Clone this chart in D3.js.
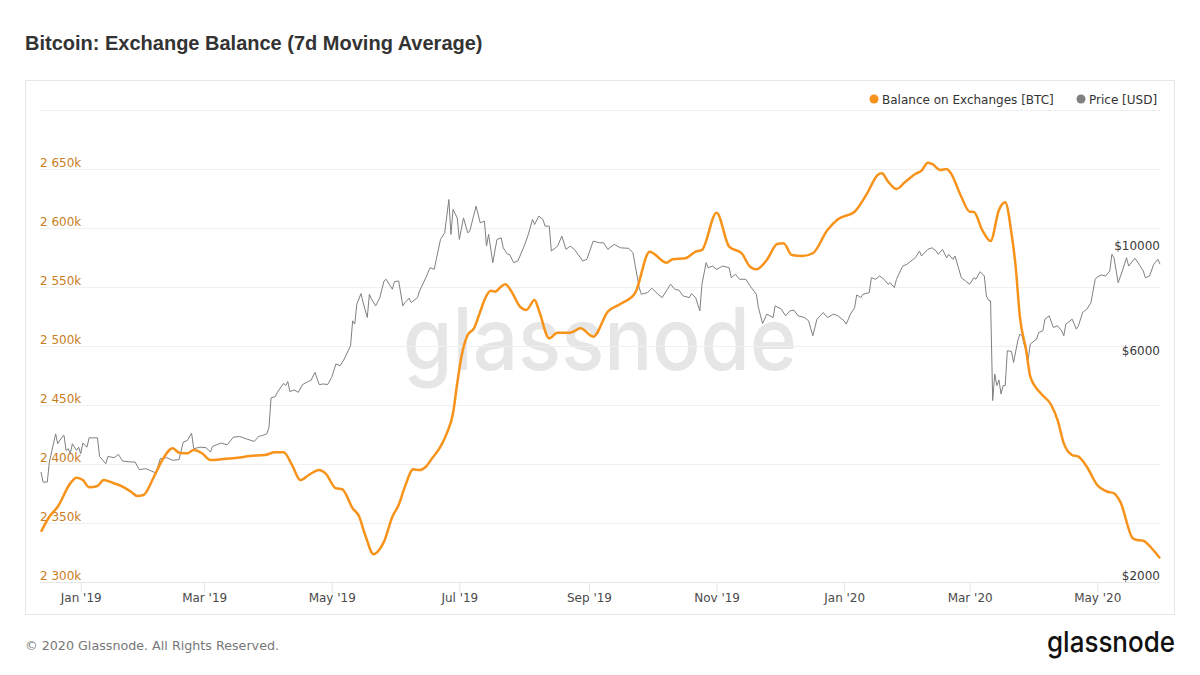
<!DOCTYPE html>
<html>
<head>
<meta charset="utf-8">
<script src="https://cdn.jsdelivr.net/npm/d3@7"></script>
<style>
  html, body { margin: 0; padding: 0; background: #fff; }
  svg { display: block; }
</style>
</head>
<body>
<svg id="chart" width="1200" height="675"></svg>
<script>
// ---- DATA (day = days after 2019-01-01) ----
const titleText = "Bitcoin: Exchange Balance (7d Moving Average)";
const seriesNames = ["Balance on Exchanges [BTC]", "Price [USD]"];
const balanceTicks = [2300000, 2350000, 2400000, 2450000, 2500000, 2550000, 2600000, 2650000];
const balanceGrid = [2700000];
const priceTicks = [2000, 6000, 10000];
const dayRange = [-19, 516];

// Balance on exchanges, thousands of BTC: [day, value]
const balanceSeries = [
  [-19,2342.6],[-15,2355.3],[-11,2363.8],[-5,2383.6],[-2,2388.4],[1,2386.4],[4,2380.3],[8,2381.4],
  [11,2386.4],[15,2384.2],[20,2380.8],[24,2376.5],[27,2372.9],[30,2373.7],[35,2389.2],[39,2403.4],
  [44,2413.3],[47,2409.6],[51,2409.1],[54,2411.9],[58,2409.1],[62,2403.4],[68,2404.2],[75,2405.3],
  [81,2406.8],[88,2407.6],[93,2409.9],[97,2409.9],[101,2399.2],[105,2386.4],[109,2390.7],[114,2394.9],
  [117,2392.1],[122,2379.4],[125,2378.6],[130,2362.5],[133,2355.9],[136,2339.8],[140,2323.5],[142,2325.7],
  [145,2334.2],[149,2355.3],[152,2365.3],[155,2380.8],[159,2395.5],[162,2394.9],[165,2397.7],[168,2404.8],
  [172,2414.7],[175,2426.0],[178,2443.0],[180,2468.4],[182,2490.9],[185,2509.3],[188,2515.0],[191,2529.1],
  [193,2539.0],[196,2546.9],[198,2546.0],[201,2550.3],[203,2552.3],[206,2546.0],[210,2533.3],[213,2530.5],
  [217,2539.0],[219,2530.5],[224,2506.5],[228,2511.3],[234,2511.3],[239,2515.0],[245,2507.9],[252,2529.1],
  [258,2535.6],[265,2544.7],[272,2579.9],[280,2570.6],[283,2573.5],[289,2574.3],[294,2579.9],[297,2581.4],
  [304,2613.0],[310,2584.2],[316,2578.6],[320,2567.2],[323,2565.0],[328,2572.9],[333,2586.5],[336,2587.0],
  [340,2577.1],[345,2576.3],[350,2578.6],[357,2598.3],[362,2607.4],[370,2613.8],[376,2629.4],[381,2644.9],
  [383,2646.4],[386,2639.3],[390,2633.1],[394,2638.7],[399,2645.8],[402,2648.6],[405,2655.4],[407,2654.3],
  [411,2649.2],[414,2650.0],[416,2646.4],[421,2626.5],[425,2613.8],[427,2613.6],[431,2598.3],[435,2589.0],
  [439,2615.3],[442,2621.8],[445,2595.5],[447,2567.2],[449,2524.8],[452,2496.6],[454,2474.0],[459,2459.9],
  [464,2450.0],[467,2437.3],[470,2417.5],[474,2407.6],[477,2406.2],[481,2397.7],[486,2382.2],[491,2376.5],
  [494,2375.2],[497,2368.1],[503,2337.0],[505,2335.6],[508,2335.0],[512,2328.6],[516,2320.1]
];

// BTC price in USD: [day, value]
const priceSeries = [
  [-19,3420],[-18,3256],[-16,3256],[-15,3591],[-12,4121],[-11,3926],[-9,4054],[-8,4089],[-7,3800],[-6,3832],
  [-5,3740],[-4,3926],[-2,3800],[-1,3861],[0,3740],[1,3939],[3,3861],[4,4041],[8,4041],[9,3690],[12,3562],
  [13,3690],[16,3668],[18,3727],[20,3608],[24,3591],[26,3591],[28,3460],[31,3477],[33,3448],[36,3403],
  [38,3649],[41,3668],[44,3621],[47,3634],[49,3956],[51,3990],[53,4134],[54,3832],[57,3861],[60,3850],
  [62,3769],[63,3875],[67,3939],[70,3906],[73,4054],[76,4068],[79,4023],[83,3970],[85,4068],[87,4089],
  [89,4121],[90,4256],[91,4910],[93,4942],[94,5045],[97,5272],[98,5214],[99,5316],[100,5062],[102,5106],
  [104,5045],[106,5238],[109,5324],[110,5342],[112,5562],[114,5238],[116,5256],[118,5238],[120,5428],
  [122,5794],[124,5746],[126,5936],[129,6334],[130,7150],[131,7038],[132,7756],[134,8166],[135,7816],
  [137,7268],[138,8142],[139,7948],[141,7692],[143,8008],[145,8686],[146,8758],[149,8344],[150,8656],
  [152,8686],[154,7692],[155,7816],[157,7986],[158,7816],[161,8008],[162,8276],[165,8826],[166,9042],
  [167,9264],[169,9194],[170,9652],[172,10638],[174,10986],[176,12922],[177,10900],[178,12310],[180,11816],
  [181,10638],[183,11816],[185,10986],[186,11078],[189,12510],[191,11532],[193,11628],[194,10296],[195,10900],
  [197,9496],[199,10638],[201,10722],[202,10212],[204,9890],[205,9890],[207,9496],[209,9574],[212,10296],
  [214,10900],[216,11726],[217,11442],[219,11914],[221,11726],[222,11350],[224,11350],[225,10050],[228,10296],
  [230,10810],[232,10134],[234,10296],[236,10134],[240,9574],[242,9652],[245,10552],[248,10466],[250,10466],
  [252,10134],[255,10384],[258,10212],[262,10184],[264,9968],[265,9422],[267,8410],[268,8142],[271,8206],
  [273,8386],[276,8142],[278,8008],[280,8276],[282,8546],[284,8344],[286,8304],[288,8074],[291,8008],
  [292,8166],[294,8008],[296,7506],[297,8546],[299,9496],[300,9264],[302,9342],[304,9194],[307,9342],
  [310,9264],[311,8826],[313,8974],[315,8758],[318,8758],[320,8476],[323,8142],[324,7628],[326,7056],
  [328,7388],[331,7268],[332,7692],[335,7568],[337,7328],[339,7506],[341,7532],[343,7328],[346,7268],
  [348,7150],[350,6648],[352,7210],[355,7446],[357,7268],[360,7388],[362,7328],[365,7150],[366,7038],
  [368,7388],[370,7628],[371,8114],[373,8008],[374,8142],[377,8206],[378,8826],[380,8758],[382,8900],
  [384,8758],[386,8546],[387,8612],[389,8410],[390,8758],[393,9342],[395,9422],[398,9652],[399,9728],
  [401,10050],[402,9810],[405,10134],[407,10212],[409,10050],[410,9890],[412,10134],[414,9728],[415,9890],
  [417,9652],[418,9810],[421,8826],[423,8686],[425,8546],[427,8826],[428,8758],[430,9086],[432,8900],
  [433,8074],[434,7908],[435,7882],[436,4847],[437,5518],[438,5214],[439,5360],[440,5006],[441,5214],
  [442,5214],[443,6180],[445,6160],[446,5838],[448,6488],[449,6702],[450,6648],[451,6386],[453,5936],
  [454,6386],[457,6542],[458,6756],[460,6812],[461,7210],[463,7328],[465,6922],[467,6980],[469,6812],
  [470,6648],[471,7038],[474,7210],[476,6868],[477,6980],[479,7446],[481,7568],[483,7816],[485,8758],
  [486,8856],[488,8942],[490,8900],[492,9120],[493,9890],[494,9728],[496,8612],[498,9120],[500,9728],
  [501,9342],[504,9700],[506,9422],[508,9120],[509,8826],[511,8900],[513,9422],[515,9652],[516,9422]
];

// ---- DRAWING ----
const baseDate = new Date(Date.UTC(2019, 0, 1));
const toDate = d => d3.utcDay.offset(baseDate, d);

const svg = d3.select("#chart");
const FONT = "'DejaVu Sans', sans-serif";
const ORANGE = "#f7931a";
const GRAY = "#808080";

const plot = { left: 40, right: 1160, top: 110, bottom: 582 };

const x = d3.scaleUtc()
  .domain([toDate(dayRange[0]), toDate(dayRange[1])])
  .range([41, 1160]);
const yL = d3.scaleLinear().domain([2300000, 2700000]).range([plot.bottom, plot.top]);
const yR = d3.scaleLog().domain([2000, 20000]).range([plot.bottom, plot.top]);

svg.append("rect").attr("width", 1200).attr("height", 675).attr("fill", "#fff");

// Title
svg.append("text")
  .attr("x", 25).attr("y", 50)
  .attr("font-family", "'Liberation Sans', Arial, sans-serif")
  .attr("font-weight", "bold").attr("font-size", 20)
  .attr("fill", "#333").text(titleText);

// Frame
svg.append("rect")
  .attr("x", 25.5).attr("y", 80.5).attr("width", 1149).attr("height", 534)
  .attr("fill", "none").attr("stroke", "#e6e6e6");

// Watermark
svg.append("text")
  .attr("x", 403).attr("y", 370)
  .attr("font-family", "Inter, 'Open Sans', sans-serif")
  .attr("font-weight", 500).attr("font-size", 86)
  .attr("textLength", 394).attr("lengthAdjust", "spacingAndGlyphs")
  .attr("fill", "#e6e6e6").text("glassnode");

// Grid lines
const gridVals = balanceTicks.concat(balanceGrid);
svg.append("g").selectAll("line").data(gridVals).join("line")
  .attr("x1", plot.left).attr("x2", plot.right)
  .attr("y1", d => Math.round(yL(d)) + 0.5).attr("y2", d => Math.round(yL(d)) + 0.5)
  .attr("stroke", d => d === 2300000 ? "#e6e6e6" : "#f0f0f0").attr("stroke-width", 1);

// X axis
const xAxis = d3.axisBottom(x)
  .ticks(d3.utcMonth.every(2))
  .tickFormat(d3.utcFormat("%b '%y"))
  .tickSize(10).tickSizeOuter(0);
const gx = svg.append("g").attr("transform", `translate(0,${plot.bottom + 0.5})`).call(xAxis);
gx.select(".domain").remove();
gx.selectAll(".tick line").attr("stroke", "#e6e6e6");
gx.selectAll(".tick text")
  .attr("font-family", FONT).attr("font-size", 12).attr("fill", "#4a4a4a")
  .attr("y", 11).attr("dy", "0.71em");

// Left axis labels
const fmtBal = v => {
  const k = Math.round(v / 1000);
  return `${Math.floor(k / 1000)} ${String(k % 1000).padStart(3, "0")}k`;
};
const gl = svg.append("g").attr("transform", `translate(${plot.left},0)`)
  .call(d3.axisRight(yL).tickValues(balanceTicks).tickFormat(fmtBal).tickSize(0));
gl.select(".domain").remove();
gl.selectAll(".tick text")
  .attr("x", 0).attr("dy", "-0.22em").attr("text-anchor", "start")
  .attr("font-family", FONT).attr("font-size", 12).attr("fill", "#c97d1e");

// Right axis labels
const gr = svg.append("g").attr("transform", `translate(${plot.right},0)`)
  .call(d3.axisLeft(yR).tickValues(priceTicks).tickFormat(v => "$" + v).tickSize(0));
gr.select(".domain").remove();
gr.selectAll(".tick text")
  .attr("x", 0).attr("dy", "-0.22em").attr("text-anchor", "end")
  .attr("font-family", FONT).attr("font-size", 12).attr("fill", "#3a3a3a");

// Lines
const priceLine = d3.line()
  .x(d => x(toDate(d[0]))).y(d => yR(d[1]));
svg.append("path").datum(priceSeries)
  .attr("d", priceLine).attr("fill", "none")
  .attr("stroke", GRAY).attr("stroke-width", 1).attr("stroke-linejoin", "round");

const balLine = d3.line()
  .curve(d3.curveMonotoneX)
  .x(d => x(toDate(d[0]))).y(d => yL(d[1] * 1000));
svg.append("path").datum(balanceSeries)
  .attr("d", balLine).attr("fill", "none")
  .attr("stroke", ORANGE).attr("stroke-width", 2.5).attr("stroke-linejoin", "round");

// Legend
const legend = [
  { name: seriesNames[0], color: ORANGE, cx: 874, tx: 882 },
  { name: seriesNames[1], color: GRAY, cx: 1081, tx: 1089 }
];
const lg = svg.append("g");
lg.selectAll("circle").data(legend).join("circle")
  .attr("cx", d => d.cx).attr("cy", 99).attr("r", 4.5).attr("fill", d => d.color);
lg.selectAll("text").data(legend).join("text")
  .attr("x", d => d.tx).attr("y", 103.5)
  .attr("font-family", FONT).attr("font-size", 12).attr("fill", "#333")
  .text(d => d.name);

// Footer
svg.append("text")
  .attr("x", 25).attr("y", 650)
  .attr("font-family", FONT).attr("font-size", 12.7).attr("fill", "#777")
  .text("© 2020 Glassnode. All Rights Reserved.");
svg.append("text")
  .attr("x", 1175).attr("y", 652).attr("text-anchor", "end")
  .attr("font-family", "Inter, 'Open Sans', sans-serif")
  .attr("font-weight", 500).attr("font-size", 29)
  .attr("textLength", 128).attr("lengthAdjust", "spacingAndGlyphs")
  .attr("fill", "#111").text("glassnode");
</script>
</body>
</html>
